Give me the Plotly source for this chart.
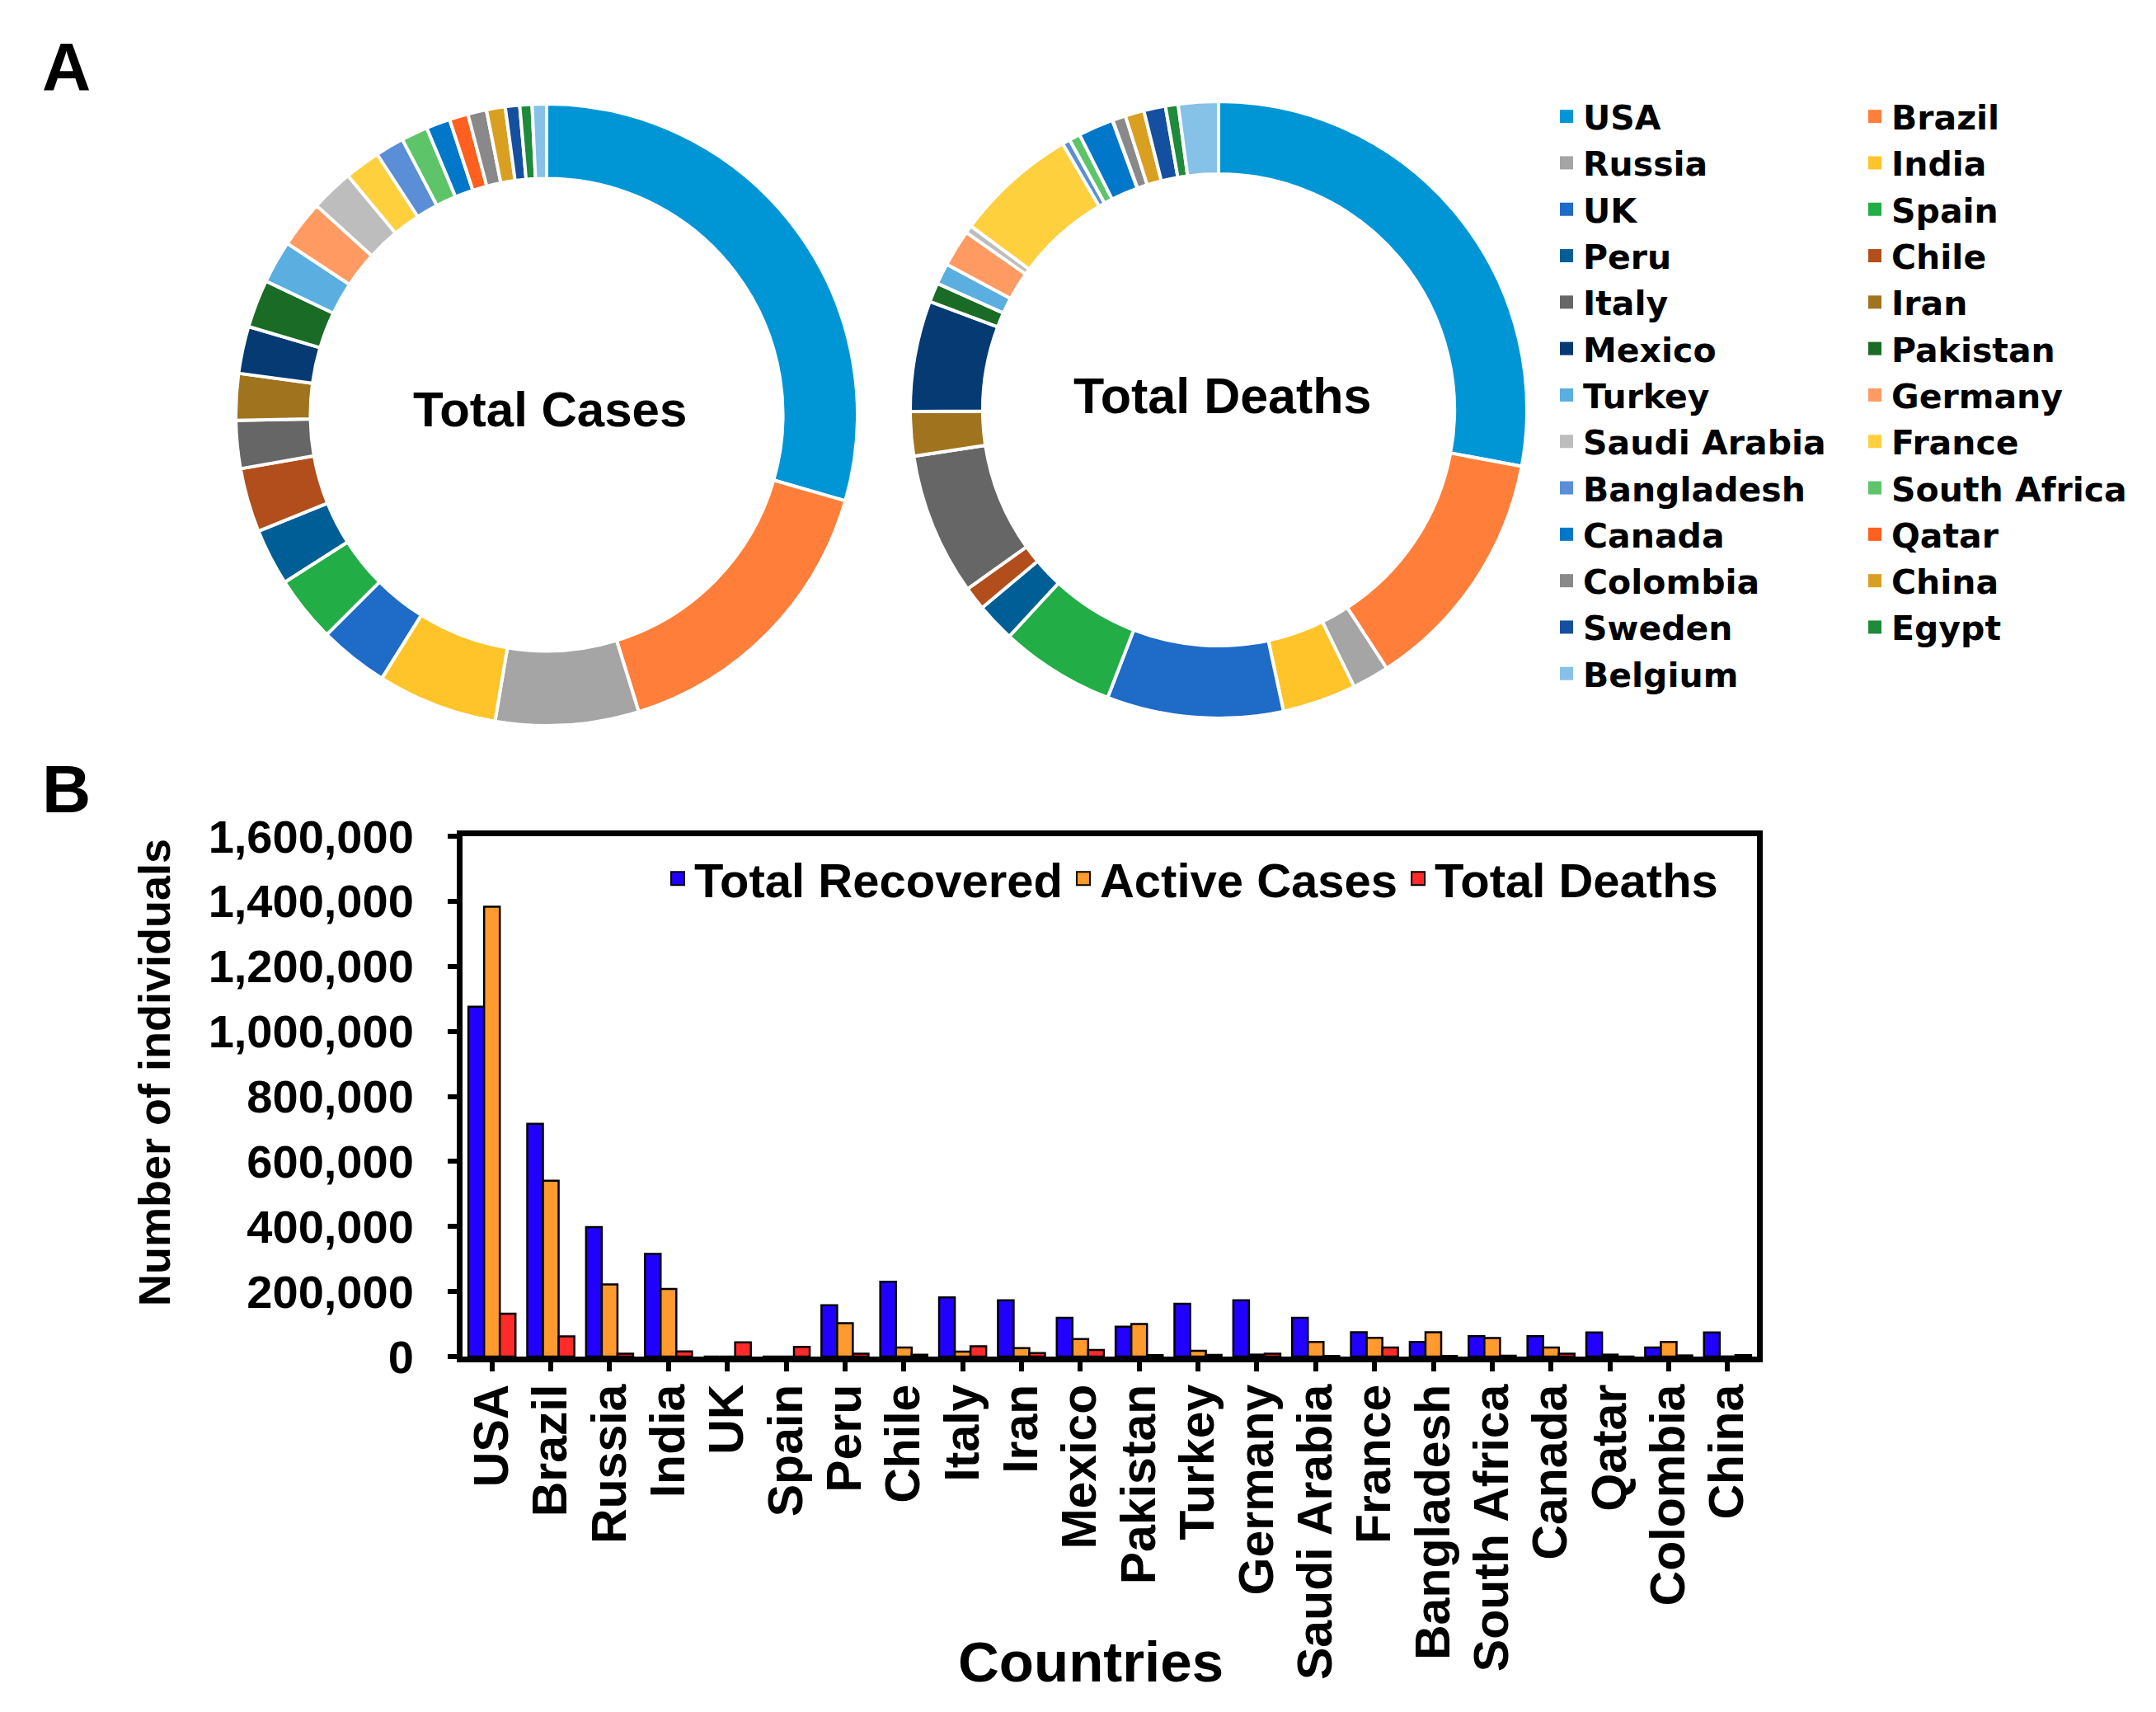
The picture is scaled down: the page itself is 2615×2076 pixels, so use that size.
import plotly.graph_objects as go

# panel A: share of cases / deaths, clockwise from 12 o'clock
countries = ['USA', 'Brazil', 'Russia', 'India', 'UK', 'Spain', 'Peru', 'Chile', 'Italy', 'Iran',
             'Mexico', 'Pakistan', 'Turkey', 'Germany', 'Saudi Arabia', 'France', 'Bangladesh',
             'South Africa', 'Canada', 'Qatar', 'Colombia', 'China', 'Sweden', 'Egypt', 'Belgium']
pie_colors = ['#0096D6', '#FF7F3A', '#A5A5A5', '#FFC42A', '#1F6BC8', '#22AD46', '#005E96', '#B24E1C',
              '#666666', '#A0741E', '#053A73', '#1A6B26', '#5AAEE0', '#FF9B62', '#BDBDBD', '#FFD03D',
              '#5A8ED6', '#5DC46A', '#0077C8', '#FF5F1F', '#898989', '#D99F20', '#1550A0', '#1E8A3A',
              '#86C1E8']
total_cases = [2600000, 1390000, 657000, 551000, 318000, 304000, 260000, 294000, 220000, 213000,
               216000, 220000, 196000, 216000, 196000, 164000, 132000, 122000, 110000, 86000,
               86000, 86000, 66000, 56000, 66000]
total_deaths = [130000, 60000, 9000, 18000, 43000, 28000, 9500, 5700, 34700, 10800,
                27000, 4700, 5100, 9000, 1900, 29800, 1900, 2700, 8600, 110,
                3200, 4600, 5300, 3100, 9750]

# panel B: grouped bars
bar_countries = ['USA', 'Brazil', 'Russia', 'India', 'UK', 'Spain', 'Peru', 'Chile', 'Italy', 'Iran',
                 'Mexico', 'Pakistan', 'Turkey', 'Germany', 'Saudi Arabia', 'France', 'Bangladesh',
                 'South Africa', 'Canada', 'Qatar', 'Colombia', 'China']
recovered = [1076000, 716000, 398000, 316000, 0, 0, 158000, 230000, 182000, 173000, 119000, 92000,
             162000, 173000, 119000, 75000, 45000, 63000, 63000, 74000, 28000, 74000]
active = [1383000, 541000, 222000, 208000, 0, 0, 103000, 28000, 15000, 26000, 54000, 100000,
          18000, 6000, 45000, 58000, 75000, 57000, 28000, 6000, 45000, 400]
deaths = [132000, 62000, 9000, 16000, 44000, 30000, 9000, 5700, 32000, 11000, 20000, 4500,
          5100, 9000, 1700, 28000, 2000, 2600, 8600, 100, 3500, 4600]

# page body keeps its 8px margin, so the figure is a bit smaller than the window
PAD = 8
W, H = 2615 - 2 * PAD, 2076 - 2 * PAD
FONT = 'Liberation Sans, Arial, sans-serif'
WIDE_FONT = 'DejaVu Sans, Verdana, sans-serif'  # legend of panel A is printed wider


def px_x(v):
    # window pixel from left -> paper fraction
    return (v - PAD) / W


def px_y(v):
    # window pixel from top -> paper fraction
    return 1 - (v - PAD) / H


def pie_domain(cx, cy, r):
    return dict(x=[px_x(cx - r), px_x(cx + r)], y=[px_y(cy + r), px_y(cy - r)])


def bold(size, family=FONT):
    return dict(family=family, size=size, color='black', weight='bold')


fig = go.Figure()

# donuts
for vals, dom, hole in [(total_cases, pie_domain(663, 503, 377), 0.76),
                        (total_deaths, pie_domain(1478, 497, 374), 0.765)]:
    fig.add_trace(go.Pie(labels=countries, values=vals, hole=hole, sort=False, direction='clockwise',
                         rotation=0, textinfo='none', showlegend=False,
                         marker=dict(colors=pie_colors, line=dict(color='white', width=4)),
                         domain=dom))

# two-column legend for the donuts
for i, (c, col) in enumerate(zip(countries, pie_colors)):
    fig.add_trace(go.Scatter(x=[None], y=[None], mode='markers', name=c,
                             marker=dict(symbol='square', size=16, color=col),
                             legend='legend2' if i % 2 == 0 else 'legend3'))

# bars (legend drawn with bigger square markers)
for name, vals, col in [('Total Recovered', recovered, '#2200FF'),
                        ('Active Cases', active, '#FF9A2E'),
                        ('Total Deaths', deaths, '#FF2A2A')]:
    fig.add_trace(go.Bar(x=bar_countries, y=vals, name=name, showlegend=False, legendgroup=name,
                         marker=dict(color=col, line=dict(color='black', width=2.5))))
    fig.add_trace(go.Scatter(x=[None], y=[None], mode='markers', name=name, legendgroup=name,
                             legend='legend',
                             marker=dict(symbol='square', size=16, color=col,
                                         line=dict(color='black', width=2))))

fig.update_layout(
    width=W, height=H, autosize=False,
    margin=dict(l=0, r=0, t=0, b=0),
    paper_bgcolor='white', plot_bgcolor='white',
    barmode='group', bargap=0.2, bargroupgap=0,
    font=dict(family=FONT, color='black', weight='bold'),
    legend=dict(orientation='h', x=px_x(2089), xanchor='right', y=px_y(1021), yanchor='top',
                bgcolor='rgba(0,0,0,0)', itemclick=False, font=bold(58)),
    legend2=dict(x=px_x(1880), xanchor='left', y=px_y(108), yanchor='top', bgcolor='rgba(0,0,0,0)',
                 font=bold(41, WIDE_FONT)),
    legend3=dict(x=px_x(2254), xanchor='left', y=px_y(108), yanchor='top', bgcolor='rgba(0,0,0,0)',
                 font=bold(41, WIDE_FONT)),
    xaxis=dict(domain=[px_x(561), px_x(2131)], type='category', range=[-0.5, 21.5],
               showline=True, linecolor='black', linewidth=7, mirror=True,
               ticks='outside', ticklen=11, tickwidth=6, tickcolor='black', tickangle=-90,
               ticklabelstandoff=-8, tickfont=bold(59), showgrid=False, automargin=False),
    yaxis=dict(domain=[px_y(1645), px_y(1014)], range=[0, 1600000], dtick=200000, tickformat=',',
               showline=True, linecolor='black', linewidth=7, mirror=True,
               ticks='outside', ticklen=11, tickwidth=6, tickcolor='black', ticklabelstandoff=30,
               tickfont=bold(56), showgrid=False, zeroline=False, automargin=False),
    annotations=[
        dict(text='A', x=px_x(80), y=px_y(80), xanchor='center', yanchor='middle'),
        dict(text='B', x=px_x(80), y=px_y(956), xanchor='center', yanchor='middle'),
        dict(text='Total Cases', x=px_x(667), y=px_y(497), xanchor='center', yanchor='middle',
             font=bold(60)),
        dict(text='Total Deaths', x=px_x(1483), y=px_y(480), xanchor='center', yanchor='middle',
             font=bold(61)),
        dict(text='Number of individuals', x=px_x(187), y=px_y(1301), xanchor='center',
             yanchor='middle', textangle=-90, font=bold(54)),
        dict(text='Countries', x=px_x(1323), y=px_y(2015), xanchor='center', yanchor='middle',
             font=bold(69)),
    ],
)
for a in fig.layout.annotations:
    a.update(xref='paper', yref='paper', showarrow=False)
    if a.text in ('A', 'B'):
        a.font = bold(82)

fig.write_html('out.html')
